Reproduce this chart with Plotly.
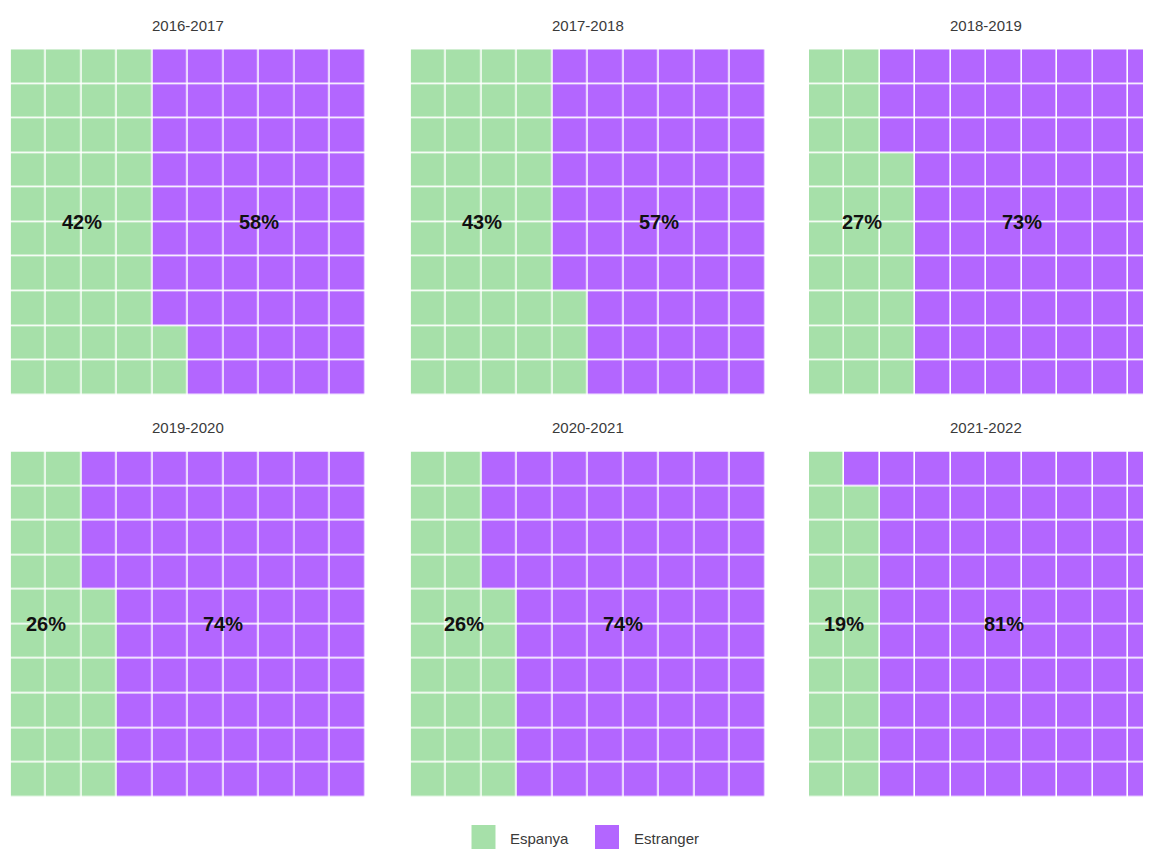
import plotly.graph_objects as go

# ---- data ----
seasons = ["2016-2017", "2017-2018", "2018-2019", "2019-2020", "2020-2021", "2021-2022"]
espanya_pct = [42, 43, 27, 26, 26, 19]
estranger_pct = [58, 57, 73, 74, 74, 81]
categories = ["Espanya", "Estranger"]
# label positions (in cell units)
label_x_espanya = [2.0, 2.0, 1.5, 1.0, 1.5, 1.0]
label_x_estranger = [7.0, 7.0, 6.0, 6.0, 6.0, 5.5]

colors = ["#A6E0A9", "#B366FF"]
OFF = 8  # page body margin offset
W, H = 1151 - OFF, 849 - OFF  # figure fits exactly in the viewport
FONT = "Liberation Sans, Arial, sans-serif"

cell = 35.45
col_left_px = [10.7 - OFF, 410.7 - OFF, 809.0 - OFF]
row_top_px = [49.3 - OFF, 451.5 - OFF]
panel_h = 345.7

fig = go.Figure()
annotations = []
shapes = []

for i, season in enumerate(seasons):
    r, c = divmod(i, 3)
    n_green = espanya_pct[i]
    # grid: column-major fill from bottom-left, going up
    z = [[0] * 10 for _ in range(10)]  # z[row_from_bottom][col]
    for k in range(100):
        col, row = divmod(k, 10)
        z[row][col] = 0 if k < n_green else 1
    ax = "" if i == 0 else str(i + 1)
    fig.add_trace(go.Heatmap(
        z=z,
        x=[j + 0.5 for j in range(10)],
        y=[j + 0.5 for j in range(10)],
        zmin=0, zmax=1,
        colorscale=[[0, colors[0]], [0.5, colors[0]], [0.5, colors[1]], [1, colors[1]]],
        showscale=False, xgap=1.6, ygap=1.6,
        hoverinfo="skip",
        xaxis="x" + ax, yaxis="y" + ax,
    ))
    x0 = col_left_px[c]
    x1 = min(x0 + 10 * cell, W)
    xmax = (x1 - x0) / cell
    y0 = row_top_px[r]
    y1 = y0 + panel_h
    fig.update_layout(**{
        "xaxis" + ax: dict(domain=[x0 / W, x1 / W], range=[0, xmax], visible=False,
                           anchor="y" + ax, fixedrange=True),
        "yaxis" + ax: dict(domain=[1 - y1 / H, 1 - y0 / H], range=[0, 10], visible=False,
                           anchor="x" + ax, fixedrange=True),
    })
    # panel title
    annotations.append(dict(
        text=season, xref="paper", yref="paper",
        x=(x0 + 5 * cell) / W, y=1 - (y0 - 24) / H,
        xanchor="center", yanchor="middle", showarrow=False,
        font=dict(family=FONT, size=15, color="#3a3a3a"),
    ))
    # percentage labels
    for lx, pct in ((label_x_espanya[i], espanya_pct[i]), (label_x_estranger[i], estranger_pct[i])):
        annotations.append(dict(
            text=f"<b>{pct}%</b>", xref="x" + ax, yref="y" + ax,
            x=lx, y=5, xanchor="center", yanchor="middle", showarrow=False,
            font=dict(family=FONT, size=20, color="#111111"),
        ))

# legend (drawn manually for larger keys)
legend_items = [(471.5 - OFF, 508 - OFF), (595 - OFF, 632 - OFF)]
for (sx, tx), name, colr in zip(legend_items, categories, colors):
    shapes.append(dict(type="rect", xref="paper", yref="paper",
                       x0=sx / W, x1=(sx + 24) / W,
                       y0=0, y1=1 - (825 - OFF) / H,
                       fillcolor=colr, line=dict(width=0)))
    annotations.append(dict(text=name, xref="paper", yref="paper",
                            x=tx / W, y=1 - (838 - OFF) / H, xanchor="left", yanchor="middle",
                            showarrow=False,
                            font=dict(family=FONT, size=15, color="#3a3a3a")))

fig.update_layout(
    width=W, height=H,
    margin=dict(l=0, r=0, t=0, b=0),
    paper_bgcolor="white", plot_bgcolor="white",
    showlegend=False,
    annotations=annotations, shapes=shapes,
)

fig.write_html("out.html", default_width=f"{W}px", default_height=f"{H}px")
